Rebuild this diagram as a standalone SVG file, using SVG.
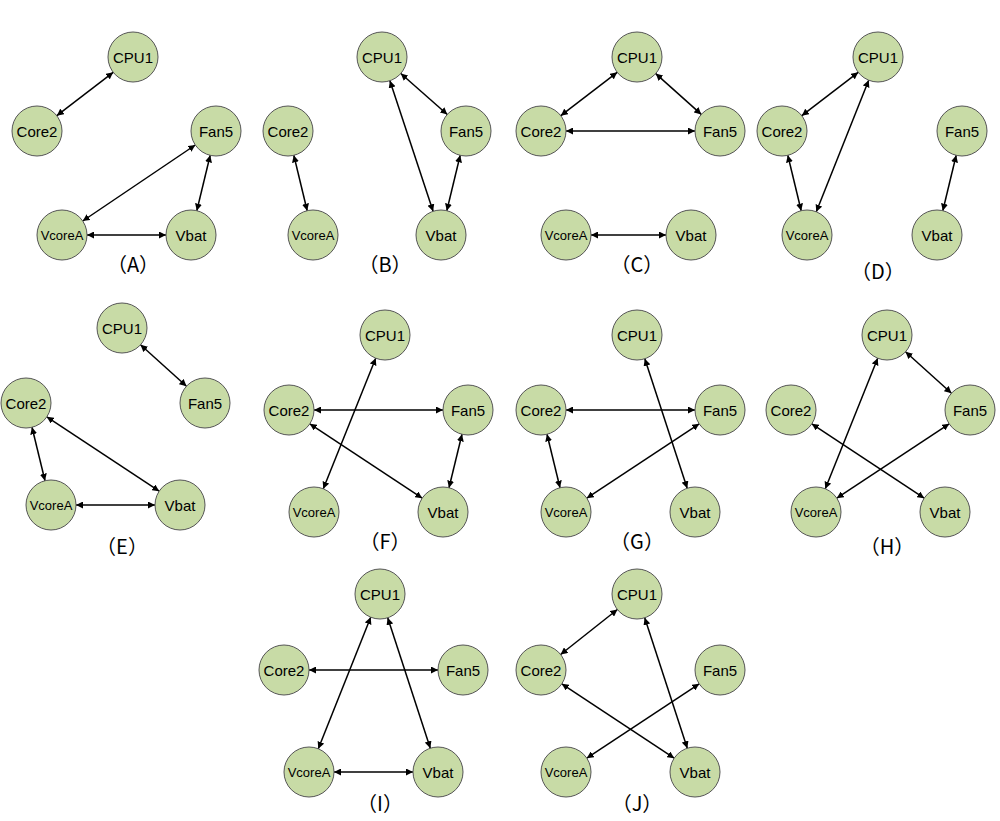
<svg xmlns="http://www.w3.org/2000/svg" width="1000" height="821" viewBox="0 0 1000 821">
<style>
.n circle{fill:#c8dba6;stroke:#555;stroke-width:1}
.n text{font-family:"Liberation Sans",Arial,sans-serif;font-size:15px;text-anchor:middle;dominant-baseline:central;fill:#000}
.n text.s{font-size:13px}
.e line{stroke:#000;stroke-width:1.5;marker-start:url(#a);marker-end:url(#a)}
.l{font-family:"Noto Sans CJK JP","Liberation Sans",sans-serif;font-size:20px;text-anchor:middle;dominant-baseline:central}
</style>
<defs><marker id="a" viewBox="0 0 10 10" refX="10" refY="5" markerWidth="7" markerHeight="7" orient="auto-start-reverse" markerUnits="userSpaceOnUse"><path d="M0,0L10,5L0,10z" fill="#000"/></marker></defs>
<rect width="1000" height="821" fill="#fff"/>
<g class="e" id="connectors">
<line x1="113.2" y1="72.3" x2="56.8" y2="115.7"/><line x1="195.3" y1="145" x2="82.7" y2="221"/><line x1="210.2" y1="155.3" x2="196.8" y2="210.7"/><line x1="87" y1="235" x2="166" y2="235"/>
<line x1="400.8" y1="73.5" x2="447.3" y2="114.5"/><line x1="389.9" y1="80.7" x2="433.1" y2="211.3"/><line x1="460.2" y1="155.3" x2="446.8" y2="210.7"/><line x1="293.8" y1="155.3" x2="307.2" y2="210.7"/>
<line x1="617.2" y1="72.3" x2="560.8" y2="115.7"/><line x1="655.7" y1="73.6" x2="701.3" y2="114.4"/><line x1="566" y1="131" x2="695" y2="131"/><line x1="591" y1="235" x2="666" y2="235"/>
<line x1="858.2" y1="72.3" x2="801.8" y2="115.7"/><line x1="868.7" y1="80.2" x2="816.3" y2="211.8"/><line x1="787.8" y1="155.3" x2="801.2" y2="210.7"/><line x1="956.2" y1="155.3" x2="942.8" y2="210.7"/>
<line x1="140.5" y1="344.8" x2="186.5" y2="386.2"/><line x1="32" y1="427.3" x2="45" y2="480.7"/><line x1="46.8" y1="416.8" x2="159.2" y2="491.2"/><line x1="76" y1="505" x2="155" y2="505"/>
<line x1="375.7" y1="358.2" x2="323.3" y2="488.8"/><line x1="314" y1="410" x2="443" y2="410"/><line x1="309.8" y1="423.8" x2="422.2" y2="498.2"/><line x1="462" y1="434.3" x2="449" y2="487.7"/>
<line x1="644.8" y1="358.8" x2="687.2" y2="488.2"/><line x1="566" y1="410" x2="695" y2="410"/><line x1="547" y1="434.3" x2="560" y2="487.7"/><line x1="699.2" y1="423.8" x2="586.8" y2="498.2"/>
<line x1="877.7" y1="358.2" x2="825.3" y2="488.8"/><line x1="905.5" y1="351.8" x2="951.5" y2="393.2"/><line x1="811.8" y1="423.8" x2="924.2" y2="498.2"/><line x1="949.2" y1="423.8" x2="836.8" y2="498.2"/>
<line x1="370.7" y1="617.2" x2="318.3" y2="748.8"/><line x1="387.7" y1="617.8" x2="430.3" y2="748.2"/><line x1="309" y1="670" x2="438" y2="670"/><line x1="334" y1="772" x2="413" y2="772"/>
<line x1="617.4" y1="609.5" x2="560.6" y2="654.5"/><line x1="644.7" y1="617.8" x2="687.3" y2="748.2"/><line x1="561.8" y1="683.8" x2="674.2" y2="758.2"/><line x1="699.2" y1="683.8" x2="586.8" y2="758.2"/>
</g>
<g class="n" id="A-CPU1"><circle cx="133" cy="57" r="25"/><text x="133" y="57">CPU1</text></g>
<g class="n" id="A-Core2"><circle cx="37" cy="131" r="25"/><text x="37" y="131">Core2</text></g>
<g class="n" id="A-Fan5"><circle cx="216" cy="131" r="25"/><text x="216" y="131">Fan5</text></g>
<g class="n" id="A-VcoreA"><circle cx="62" cy="235" r="25"/><text class="s" x="62" y="235">VcoreA</text></g>
<g class="n" id="A-Vbat"><circle cx="191" cy="235" r="25"/><text x="191" y="235">Vbat</text></g>
<g class="n" id="B-CPU1"><circle cx="382" cy="57" r="25"/><text x="382" y="57">CPU1</text></g>
<g class="n" id="B-Core2"><circle cx="288" cy="131" r="25"/><text x="288" y="131">Core2</text></g>
<g class="n" id="B-Fan5"><circle cx="466" cy="131" r="25"/><text x="466" y="131">Fan5</text></g>
<g class="n" id="B-VcoreA"><circle cx="313" cy="235" r="25"/><text class="s" x="313" y="235">VcoreA</text></g>
<g class="n" id="B-Vbat"><circle cx="441" cy="235" r="25"/><text x="441" y="235">Vbat</text></g>
<g class="n" id="C-CPU1"><circle cx="637" cy="57" r="25"/><text x="637" y="57">CPU1</text></g>
<g class="n" id="C-Core2"><circle cx="541" cy="131" r="25"/><text x="541" y="131">Core2</text></g>
<g class="n" id="C-Fan5"><circle cx="720" cy="131" r="25"/><text x="720" y="131">Fan5</text></g>
<g class="n" id="C-VcoreA"><circle cx="566" cy="235" r="25"/><text class="s" x="566" y="235">VcoreA</text></g>
<g class="n" id="C-Vbat"><circle cx="691" cy="235" r="25"/><text x="691" y="235">Vbat</text></g>
<g class="n" id="D-CPU1"><circle cx="878" cy="57" r="25"/><text x="878" y="57">CPU1</text></g>
<g class="n" id="D-Core2"><circle cx="782" cy="131" r="25"/><text x="782" y="131">Core2</text></g>
<g class="n" id="D-Fan5"><circle cx="962" cy="131" r="25"/><text x="962" y="131">Fan5</text></g>
<g class="n" id="D-VcoreA"><circle cx="807" cy="235" r="25"/><text class="s" x="807" y="235">VcoreA</text></g>
<g class="n" id="D-Vbat"><circle cx="937" cy="235" r="25"/><text x="937" y="235">Vbat</text></g>
<g class="n" id="E-CPU1"><circle cx="122" cy="328" r="25"/><text x="122" y="328">CPU1</text></g>
<g class="n" id="E-Core2"><circle cx="26" cy="403" r="25"/><text x="26" y="403">Core2</text></g>
<g class="n" id="E-Fan5"><circle cx="205" cy="403" r="25"/><text x="205" y="403">Fan5</text></g>
<g class="n" id="E-VcoreA"><circle cx="51" cy="505" r="25"/><text class="s" x="51" y="505">VcoreA</text></g>
<g class="n" id="E-Vbat"><circle cx="180" cy="505" r="25"/><text x="180" y="505">Vbat</text></g>
<g class="n" id="F-CPU1"><circle cx="385" cy="335" r="25"/><text x="385" y="335">CPU1</text></g>
<g class="n" id="F-Core2"><circle cx="289" cy="410" r="25"/><text x="289" y="410">Core2</text></g>
<g class="n" id="F-Fan5"><circle cx="468" cy="410" r="25"/><text x="468" y="410">Fan5</text></g>
<g class="n" id="F-VcoreA"><circle cx="314" cy="512" r="25"/><text class="s" x="314" y="512">VcoreA</text></g>
<g class="n" id="F-Vbat"><circle cx="443" cy="512" r="25"/><text x="443" y="512">Vbat</text></g>
<g class="n" id="G-CPU1"><circle cx="637" cy="335" r="25"/><text x="637" y="335">CPU1</text></g>
<g class="n" id="G-Core2"><circle cx="541" cy="410" r="25"/><text x="541" y="410">Core2</text></g>
<g class="n" id="G-Fan5"><circle cx="720" cy="410" r="25"/><text x="720" y="410">Fan5</text></g>
<g class="n" id="G-VcoreA"><circle cx="566" cy="512" r="25"/><text class="s" x="566" y="512">VcoreA</text></g>
<g class="n" id="G-Vbat"><circle cx="695" cy="512" r="25"/><text x="695" y="512">Vbat</text></g>
<g class="n" id="H-CPU1"><circle cx="887" cy="335" r="25"/><text x="887" y="335">CPU1</text></g>
<g class="n" id="H-Core2"><circle cx="791" cy="410" r="25"/><text x="791" y="410">Core2</text></g>
<g class="n" id="H-Fan5"><circle cx="970" cy="410" r="25"/><text x="970" y="410">Fan5</text></g>
<g class="n" id="H-VcoreA"><circle cx="816" cy="512" r="25"/><text class="s" x="816" y="512">VcoreA</text></g>
<g class="n" id="H-Vbat"><circle cx="945" cy="512" r="25"/><text x="945" y="512">Vbat</text></g>
<g class="n" id="I-CPU1"><circle cx="380" cy="594" r="25"/><text x="380" y="594">CPU1</text></g>
<g class="n" id="I-Core2"><circle cx="284" cy="670" r="25"/><text x="284" y="670">Core2</text></g>
<g class="n" id="I-Fan5"><circle cx="463" cy="670" r="25"/><text x="463" y="670">Fan5</text></g>
<g class="n" id="I-VcoreA"><circle cx="309" cy="772" r="25"/><text class="s" x="309" y="772">VcoreA</text></g>
<g class="n" id="I-Vbat"><circle cx="438" cy="772" r="25"/><text x="438" y="772">Vbat</text></g>
<g class="n" id="J-CPU1"><circle cx="637" cy="594" r="25"/><text x="637" y="594">CPU1</text></g>
<g class="n" id="J-Core2"><circle cx="541" cy="670" r="25"/><text x="541" y="670">Core2</text></g>
<g class="n" id="J-Fan5"><circle cx="720" cy="670" r="25"/><text x="720" y="670">Fan5</text></g>
<g class="n" id="J-VcoreA"><circle cx="566" cy="772" r="25"/><text class="s" x="566" y="772">VcoreA</text></g>
<g class="n" id="J-Vbat"><circle cx="695" cy="772" r="25"/><text x="695" y="772">Vbat</text></g>
<g id="labels">
<text class="l" x="133" y="263">（A）</text><text class="l" x="385" y="263">（B）</text><text class="l" x="637" y="263">（C）</text><text class="l" x="878" y="270">（D）</text>
<text class="l" x="122" y="545">（E）</text><text class="l" x="385" y="540">（F）</text><text class="l" x="637" y="540">（G）</text><text class="l" x="887" y="545">（H）</text>
<text class="l" x="380" y="802">（I）</text><text class="l" x="637" y="802">（J）</text>
</g>
</svg>
